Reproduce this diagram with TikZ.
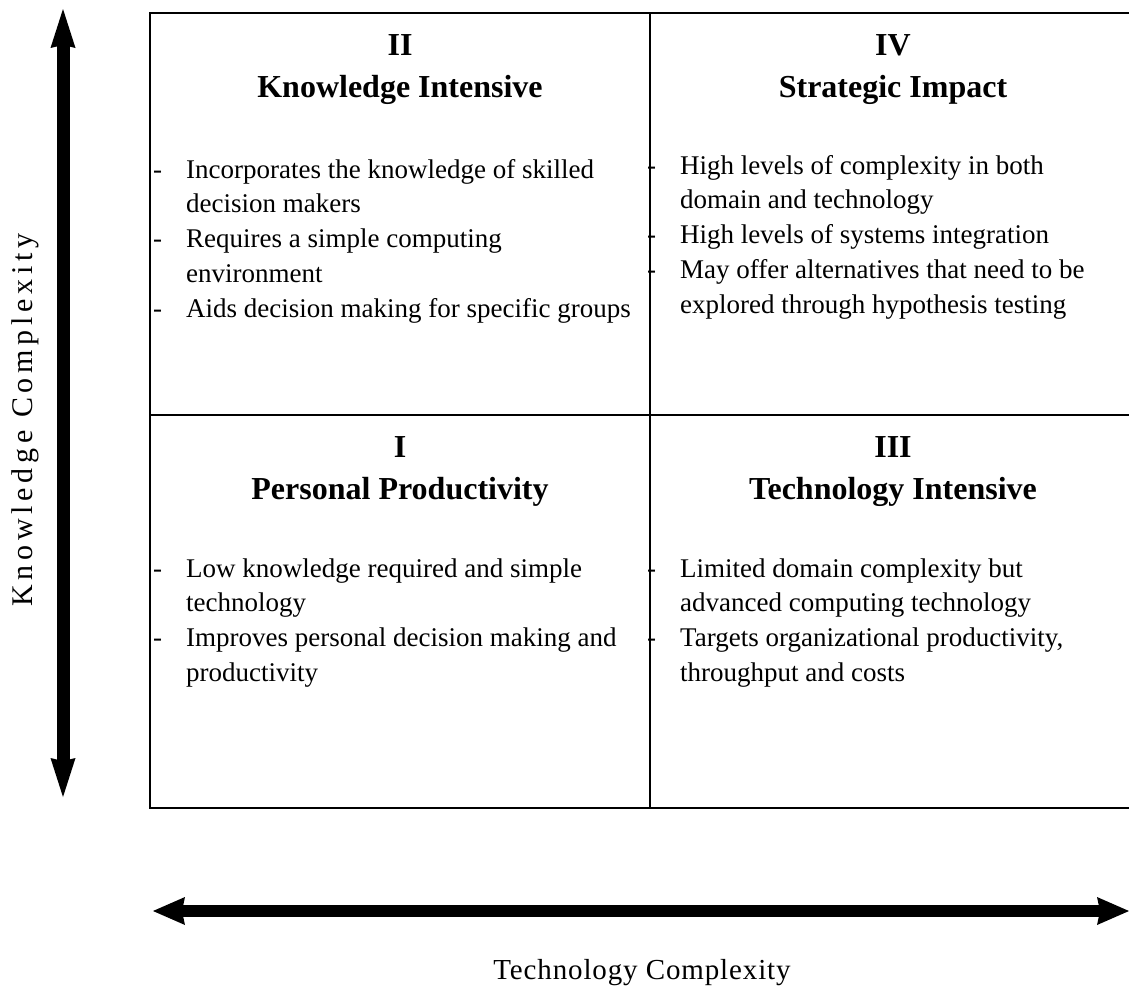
\documentclass[tikz,border=0pt]{standalone}
\usepackage{fontspec}
\setmainfont{Liberation Serif}
\usetikzlibrary{arrows.meta}

\newcommand{\titlefont}{\fontsize{32}{38}\selectfont\bfseries}
\newcommand{\bodyfont}{\fontsize{27}{34.8}\selectfont}

\begin{document}
\begin{tikzpicture}[x=1pt, y=-1pt,
    gridline/.style={line width=1.6pt},
    kaxis/.style={line width=13pt,
      {Stealth[length=39pt, width=25pt, inset=3pt, line width=0pt]}-{Stealth[length=39pt, width=25pt, inset=3pt, line width=0pt]}},
    taxis/.style={line width=12pt,
      {Stealth[length=32pt, width=28pt, inset=3pt, line width=0pt]}-{Stealth[length=32pt, width=28pt, inset=3pt, line width=0pt]}},
    numeral/.style={anchor=base, inner sep=0pt, font=\titlefont},
    quadname/.style={anchor=base, inner sep=0pt, font=\titlefont},
    points/.style={anchor=base west, inner sep=0pt, font=\bodyfont},
    axislabel/.style={anchor=base, inner sep=0pt}]
    \useasboundingbox (0,0) rectangle (1129,988);

    % Matrix grid
    \draw[gridline] (150,13) rectangle (1136,808);
    \draw[gridline] (150,415) -- (1136,415);
    \draw[gridline] (650,13) -- (650,808);

    % Quadrant II
    \node[numeral] (numII) at (400,55) {II};
    \node[quadname] (nameII) at (400,97) {Knowledge Intensive};
    \node[points] (ptsII) at (153,178) {\begin{tabular}[t]{@{}p{33pt}@{}l@{}}
      - & Incorporates the knowledge of skilled\\
        & decision makers\\
      - & Requires a simple computing\\
        & environment\\
      - & Aids decision making for specific groups
    \end{tabular}};

    % Quadrant IV
    \node[numeral] (numIV) at (893,55) {IV};
    \node[quadname] (nameIV) at (893,97) {Strategic Impact};
    \node[points] (ptsIV) at (647,174) {\begin{tabular}[t]{@{}p{33pt}@{}l@{}}
      - & High levels of complexity in both\\
        & domain and technology\\
      - & High levels of systems integration\\
      - & May offer alternatives that need to be\\
        & explored through hypothesis testing
    \end{tabular}};

    % Quadrant I
    \node[numeral] (numI) at (400,457) {I};
    \node[quadname] (nameI) at (400,499) {Personal Productivity};
    \node[points] (ptsI) at (153,577) {\begin{tabular}[t]{@{}p{33pt}@{}l@{}}
      - & Low knowledge required and simple\\
        & technology\\
      - & Improves personal decision making and\\
        & productivity
    \end{tabular}};

    % Quadrant III
    \node[numeral] (numIII) at (893,457) {III};
    \node[quadname] (nameIII) at (893,499) {Technology Intensive};
    \node[points] (ptsIII) at (647,577) {\begin{tabular}[t]{@{}p{33pt}@{}l@{}}
      - & Limited domain complexity but\\
        & advanced computing technology\\
      - & Targets organizational productivity,\\
        & throughput and costs
    \end{tabular}};

    % Axes
    \coordinate (ktop) at (63,9);
    \coordinate (kbot) at (63,797);
    \draw[kaxis] (kbot) -- (ktop);
    \node[axislabel, rotate=90, font={\fontsize{30}{36}\selectfont\addfontfeature{LetterSpace=16}}]
      (klabel) at (32,420) {Knowledge Complexity};

    \coordinate (tleft) at (153,911);
    \coordinate (tright) at (1129,911);
    \draw[taxis] (tleft) -- (tright);
    \node[axislabel, font={\fontsize{29}{35}\selectfont\addfontfeature{LetterSpace=3}}]
      (tlabel) at (642,979) {Technology Complexity};
\end{tikzpicture}
\end{document}
